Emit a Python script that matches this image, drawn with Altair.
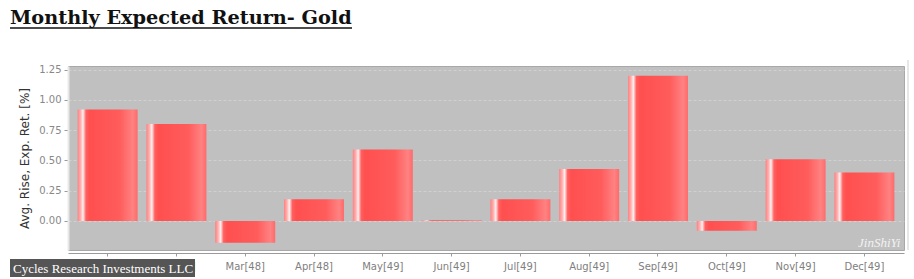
import altair as alt
import pandas as pd

months = ["Jan[48]", "Feb[48]", "Mar[48]", "Apr[48]", "May[49]", "Jun[49]",
          "Jul[49]", "Aug[49]", "Sep[49]", "Oct[49]", "Nov[49]", "Dec[49]"]
values = [0.92, 0.80, -0.18, 0.18, 0.59, 0.005, 0.18, 0.43, 1.20, -0.08, 0.51, 0.40]
y_ticks = [0.0, 0.25, 0.5, 0.75, 1.0, 1.25]
title_text = "Monthly Expected Return- Gold"
footer_text = "Cycles Research Investments LLC"
y_title = "Avg. Rise, Exp. Ret. [%]"

df = pd.DataFrame({"month": months, "value": values})

W, H = 836, 184

grad = alt.Gradient(
    gradient="linear",
    x1=0, x2=1, y1=0, y2=0,
    stops=[
        alt.GradientStop(offset=0.0, color="#ff8080"),
        alt.GradientStop(offset=0.05, color="#ffb0b0"),
        alt.GradientStop(offset=0.09, color="#fff0f0"),
        alt.GradientStop(offset=0.14, color="#ff6060"),
        alt.GradientStop(offset=0.2, color="#ff4f4f"),
        alt.GradientStop(offset=0.7, color="#ff5c5c"),
        alt.GradientStop(offset=0.92, color="#ff8282"),
        alt.GradientStop(offset=1.0, color="#ff6a6a"),
    ],
)

x_enc = alt.X(
    "month:N", sort=months, title=None,
    scale=alt.Scale(paddingInner=0.128, paddingOuter=0.14),
    axis=alt.Axis(labelAngle=0, labelColor="#808080", labelFontSize=10,
                  labelFont="DejaVu Sans", offset=3, domainColor="#9a9a9a",
                  tickColor="#9a9a9a", tickSize=3, labelPadding=5),
)
y_enc = alt.Y(
    "value:Q", title=y_title,
    scale=alt.Scale(domain=[-0.24, 1.28], nice=False, zero=False),
    axis=alt.Axis(values=y_ticks, format=".2f", labelColor="#888888",
                  labelFontSize=10, labelFont="DejaVu Sans",
                  titleColor="#333333", titleFontSize=12, titleFont="DejaVu Sans",
                  titleFontWeight="normal", titlePadding=7,
                  gridColor="#d0d0d0", gridDash=[3, 2], gridWidth=1,
                  domainColor="#e8e8e8", domainWidth=2,
                  tickColor="#9a9a9a", tickSize=4, labelPadding=3),
)

bars = alt.Chart(df).mark_bar(color=grad).encode(
    x=x_enc, y=y_enc, y2=alt.datum(0)
)

one = pd.DataFrame({"k": [0]})

title_mark = alt.Chart(one).mark_text(
    text=title_text, font="DejaVu Serif", fontSize=19.3, fontWeight="bold",
    color="#111111", align="left", baseline="alphabetic"
).encode(x=alt.value(-58), y=alt.value(-42))

underline = alt.Chart(one).mark_rule(color="#111111", strokeWidth=1.5).encode(
    x=alt.value(-58), x2=alt.value(284), y=alt.value(-38)
)

footer_box = alt.Chart(one).mark_rect(color="#555555").encode(
    x=alt.value(-58), x2=alt.value(127), y=alt.value(193), y2=alt.value(211)
)
footer = alt.Chart(one).mark_text(
    text=footer_text, font="Liberation Serif", fontSize=13, color="#ffffff",
    align="left", baseline="middle"
).encode(x=alt.value(-55), y=alt.value(202.5))

right_rule = alt.Chart(one).mark_rule(color="#cfcfcf", strokeWidth=1).encode(
    x=alt.value(840), y=alt.value(-6), y2=alt.value(H)
)

watermark = alt.Chart(one).mark_text(
    text="JinShiYi", font="Liberation Serif", fontSize=13, fontStyle="italic",
    color="#ffffff", opacity=0.8, align="left", baseline="middle"
).encode(x=alt.value(790), y=alt.value(177))

chart = alt.layer(
    bars, right_rule, title_mark, underline, footer_box, footer, watermark
).properties(
    width=W, height=H,
    autosize=alt.AutoSizeParams(type="none"),
    padding={"left": 68, "top": 66, "right": 10, "bottom": 29},
    background="#ffffff",
).configure_view(
    fill="#c0c0c0", stroke="#a8a8a8", strokeWidth=1
)

chart.save("out.html", embed_options={"renderer": "svg", "actions": False})
